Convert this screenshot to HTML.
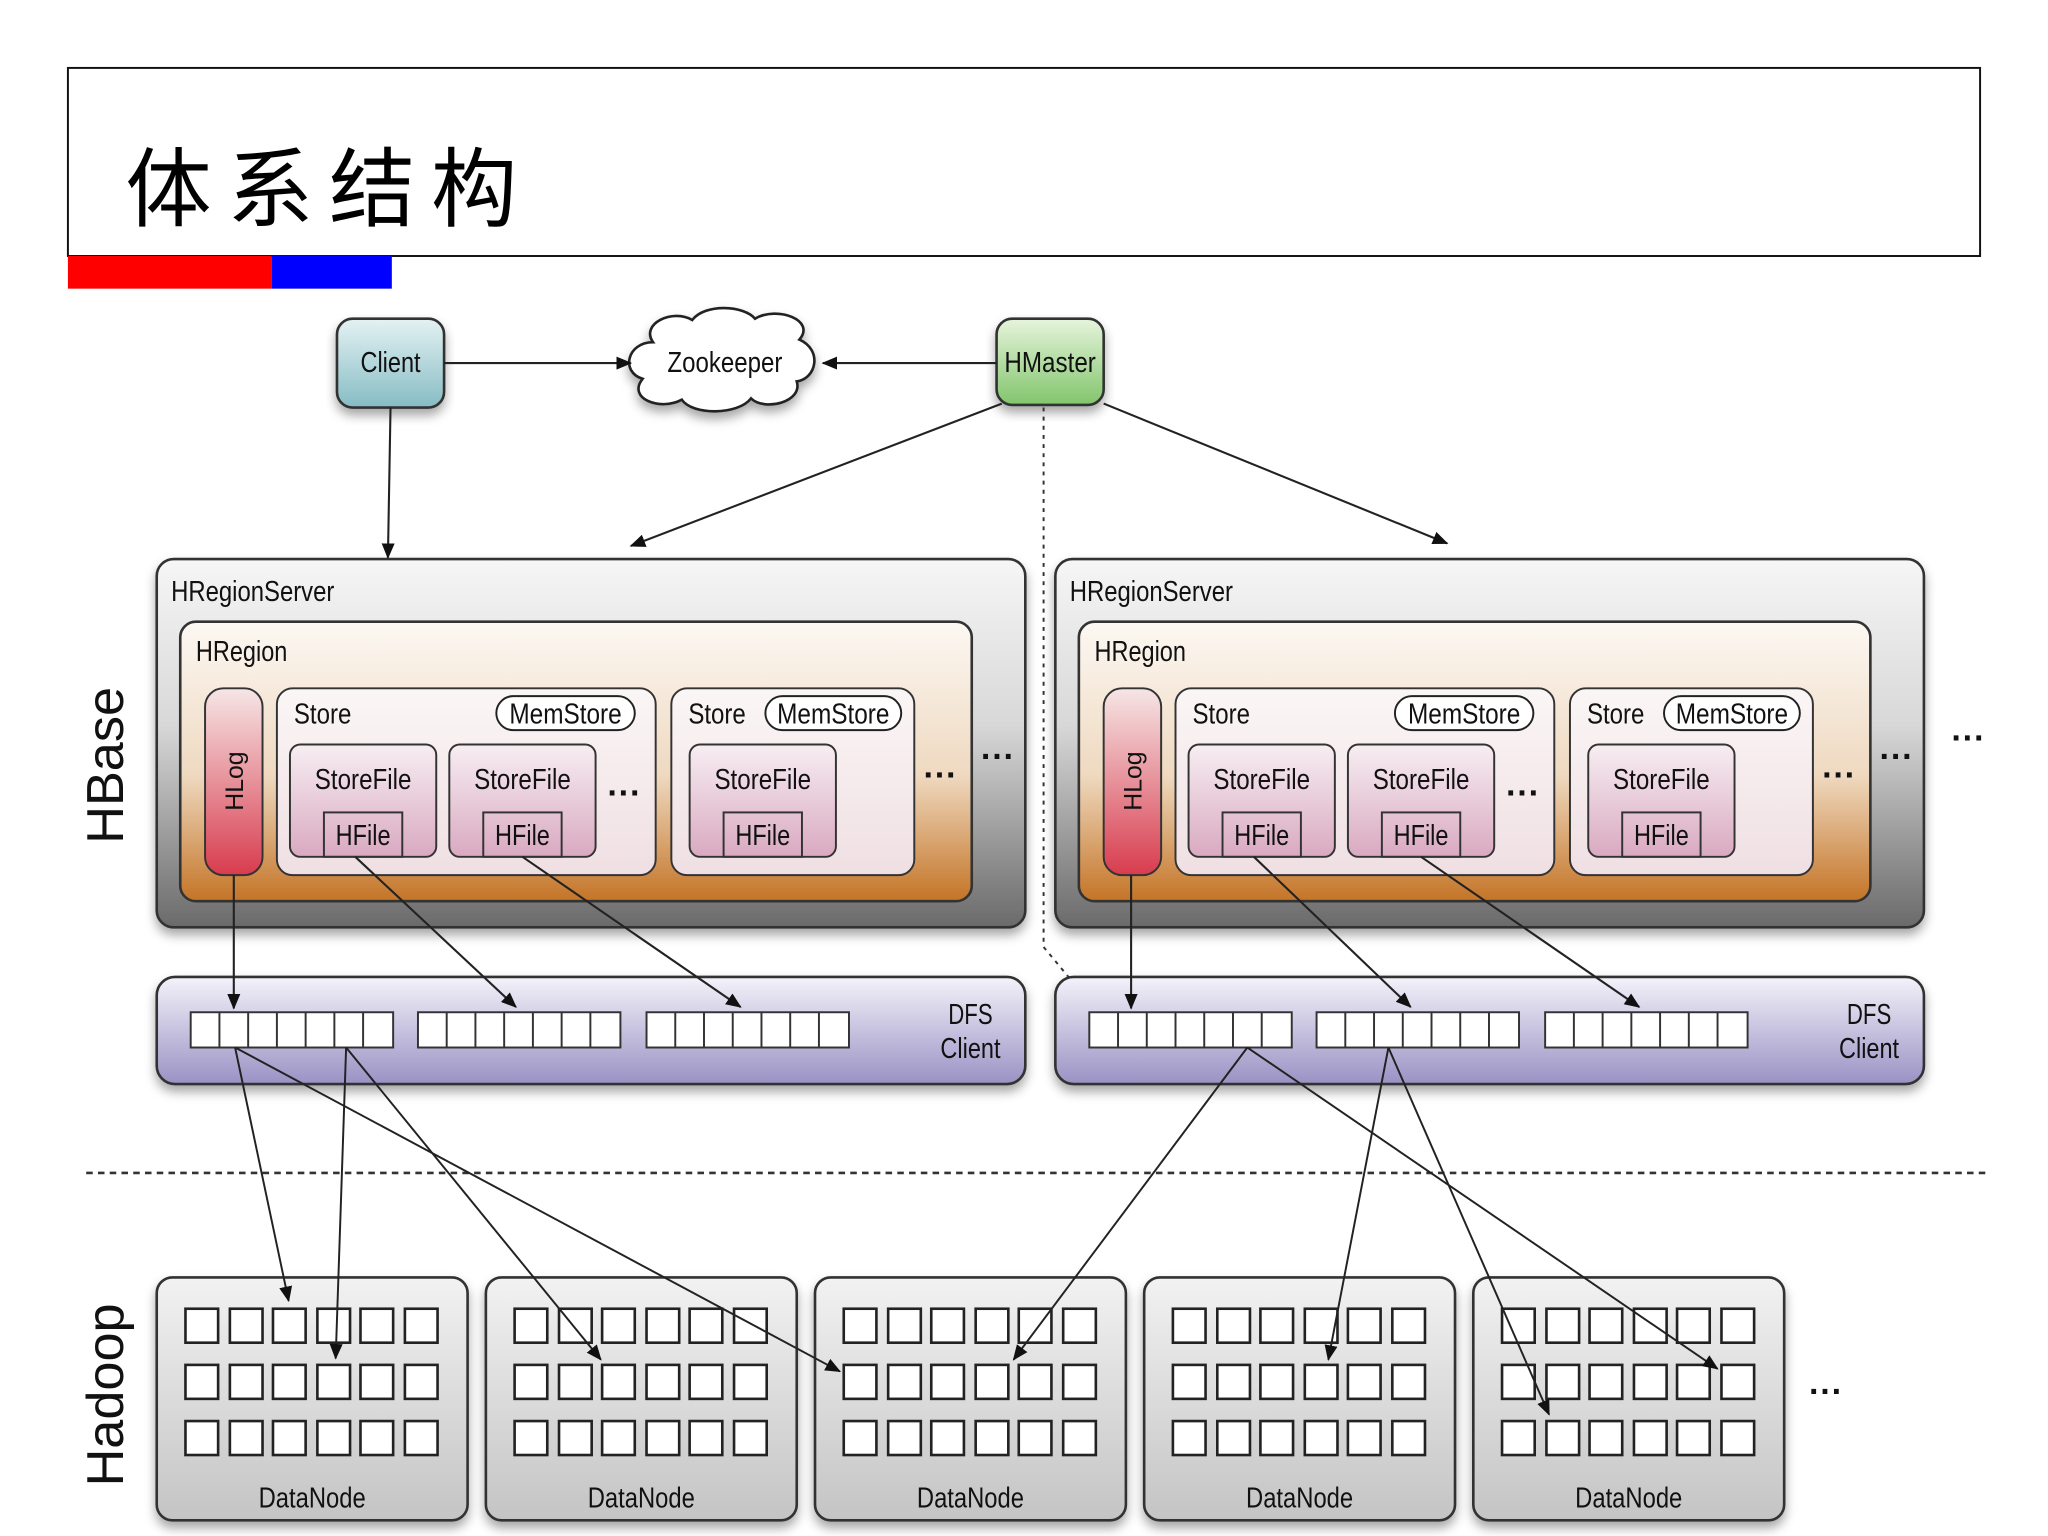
<!DOCTYPE html>
<html><head><meta charset="utf-8">
<style>
html,body{margin:0;padding:0;background:#fff;}
svg{display:block;}
text{font-family:"Liberation Sans",sans-serif;fill:#111;}
.t{font-size:22px;}
.cjk{font-family:"Liberation Sans","Noto Sans CJK SC",sans-serif;}
</style></head>
<body>
<svg width="2048" height="1536" viewBox="0 0 1568 1176" preserveAspectRatio="none" xmlns="http://www.w3.org/2000/svg">
<defs>
<linearGradient id="gSrv" x1="0" y1="0" x2="0" y2="1"><stop offset="0" stop-color="#f6f6f6"/><stop offset="0.45" stop-color="#d8d8d8"/><stop offset="1" stop-color="#6a6a6a"/></linearGradient>
<linearGradient id="gReg" x1="0" y1="0" x2="0" y2="1"><stop offset="0" stop-color="#fcf8f3"/><stop offset="0.55" stop-color="#efd9c0"/><stop offset="1" stop-color="#c47426"/></linearGradient>
<linearGradient id="gStore" x1="0" y1="0" x2="0" y2="1"><stop offset="0" stop-color="#fbf6f6"/><stop offset="1" stop-color="#efdfe3"/></linearGradient>
<linearGradient id="gSF" x1="0" y1="0" x2="0" y2="1"><stop offset="0" stop-color="#f7eef2"/><stop offset="1" stop-color="#d9a9c1"/></linearGradient>
<linearGradient id="gLog" x1="0" y1="0" x2="0" y2="1"><stop offset="0" stop-color="#f6e6e6"/><stop offset="1" stop-color="#d83c4e"/></linearGradient>
<linearGradient id="gDfs" x1="0" y1="0" x2="0" y2="1"><stop offset="0" stop-color="#f4f2fa"/><stop offset="1" stop-color="#9a92c4"/></linearGradient>
<linearGradient id="gDN" x1="0" y1="0" x2="0" y2="1"><stop offset="0" stop-color="#f2f2f2"/><stop offset="1" stop-color="#c4c4c4"/></linearGradient>
<linearGradient id="gCl" x1="0" y1="0" x2="0" y2="1"><stop offset="0" stop-color="#e4f2f3"/><stop offset="1" stop-color="#86bcc4"/></linearGradient>
<linearGradient id="gHM" x1="0" y1="0" x2="0" y2="1"><stop offset="0" stop-color="#e6f4dc"/><stop offset="1" stop-color="#82c56c"/></linearGradient>
<filter id="sh" x="-10%" y="-10%" width="120%" height="130%"><feDropShadow dx="0" dy="5" stdDeviation="4" flood-color="#000" flood-opacity="0.35"/></filter>
<marker id="ar" markerWidth="12" markerHeight="10" refX="11" refY="5" orient="auto" markerUnits="userSpaceOnUse"><path d="M0,0 L12,5 L0,10 Z" fill="#111"/></marker>
<g id="grid" fill="#fff" stroke="#222" stroke-width="2">
<rect x="22" y="24" width="25" height="26"/><rect x="56" y="24" width="25" height="26"/><rect x="89" y="24" width="25" height="26"/><rect x="123" y="24" width="25" height="26"/><rect x="156" y="24" width="25" height="26"/><rect x="190" y="24" width="25" height="26"/>
<rect x="22" y="67" width="25" height="26"/><rect x="56" y="67" width="25" height="26"/><rect x="89" y="67" width="25" height="26"/><rect x="123" y="67" width="25" height="26"/><rect x="156" y="67" width="25" height="26"/><rect x="190" y="67" width="25" height="26"/>
<rect x="22" y="110" width="25" height="26"/><rect x="56" y="110" width="25" height="26"/><rect x="89" y="110" width="25" height="26"/><rect x="123" y="110" width="25" height="26"/><rect x="156" y="110" width="25" height="26"/><rect x="190" y="110" width="25" height="26"/>
</g>
<g id="blk" fill="#fff" stroke="#333" stroke-width="1.5">
<rect x="0" y="0" width="155" height="27"/>
<path d="M22,0V27M44,0V27M66,0V27M88,0V27M110,0V27M132,0V27" fill="none"/>
</g>
<g id="sfbox">
<rect x="0" y="0" width="112" height="86" rx="8" fill="url(#gSF)" stroke="#333" stroke-width="1.5"/>
<rect x="26" y="52" width="60" height="34" fill="none" stroke="#333" stroke-width="1.5"/>
</g>
<g id="server">
<rect x="0" y="0" width="665" height="282" rx="13" fill="url(#gSrv)" stroke="#333" stroke-width="2" filter="url(#sh)"/>
<rect x="18" y="48" width="606" height="214" rx="12" fill="url(#gReg)" stroke="#333" stroke-width="2"/>
<rect x="37" y="99" width="44" height="143" rx="14" fill="url(#gLog)" stroke="#333" stroke-width="1.5"/>
<rect x="92" y="99" width="290" height="143" rx="12" fill="url(#gStore)" stroke="#333" stroke-width="1.5"/>
<rect x="260" y="105" width="106" height="26" rx="13" fill="#fff" stroke="#222" stroke-width="1.5"/>
<use href="#sfbox" x="102" y="142"/>
<use href="#sfbox" x="224" y="142"/>
<rect x="394" y="99" width="186" height="143" rx="12" fill="url(#gStore)" stroke="#333" stroke-width="1.5"/>
<rect x="466" y="105" width="104" height="26" rx="13" fill="#fff" stroke="#222" stroke-width="1.5"/>
<use href="#sfbox" x="408" y="142"/>
</g>
<g id="dfs">
<rect x="0" y="0" width="665" height="82" rx="14" fill="url(#gDfs)" stroke="#333" stroke-width="2" filter="url(#sh)"/>
<use href="#blk" x="26" y="27"/><use href="#blk" x="200" y="27"/><use href="#blk" x="375" y="27"/>
</g>
<g id="dn">
<rect x="0" y="0" width="238" height="186" rx="12" fill="url(#gDN)" stroke="#333" stroke-width="2" filter="url(#sh)"/>
<use href="#grid"/>
</g>
</defs>

<!-- Title -->
<rect x="52" y="52" width="1464" height="144" fill="#fff" stroke="#111" stroke-width="1.5"/>
<text x="96" y="168" class="cjk" style="font-size:66px;letter-spacing:12px;fill:#000">体系结构</text>
<rect x="52" y="196" width="156" height="25" fill="#ff0000"/>
<rect x="208" y="196" width="92" height="25" fill="#0000ff"/>

<!-- top nodes -->
<rect x="258" y="244" width="82" height="68" rx="12" fill="url(#gCl)" stroke="#333" stroke-width="2" filter="url(#sh)"/>
<text x="299" y="285" class="t" text-anchor="middle" textLength="46" lengthAdjust="spacingAndGlyphs">Client</text>
<path d="M500,262 C490,248 515,236 530,245 C540,232 570,234 578,244 C595,234 625,245 612,260 C630,268 625,290 610,292 C615,308 585,315 575,305 C565,318 530,318 522,306 C505,315 480,305 492,290 C475,285 480,262 500,262 Z" fill="#fff" stroke="#222" stroke-width="2" filter="url(#sh)"/>
<text x="555" y="285" class="t" text-anchor="middle" textLength="88" lengthAdjust="spacingAndGlyphs">Zookeeper</text>
<rect x="763" y="244" width="82" height="66" rx="12" fill="url(#gHM)" stroke="#333" stroke-width="2" filter="url(#sh)"/>
<text x="804" y="285" class="t" text-anchor="middle" textLength="70" lengthAdjust="spacingAndGlyphs">HMaster</text>

<g stroke="#222" stroke-width="1.6" fill="none" marker-end="url(#ar)">
<line x1="340" y1="278" x2="483" y2="278"/>
<line x1="763" y1="278" x2="630" y2="278"/>
<line x1="299" y1="312" x2="297" y2="427"/>
<line x1="767" y1="309" x2="483" y2="418"/>
<line x1="845" y1="309" x2="1108" y2="416"/>
</g>
<path d="M799,312 L799,725 L838,772" stroke="#333" stroke-width="1.5" stroke-dasharray="3,4" fill="none" marker-end="url(#ar)"/>

<!-- servers -->
<use href="#server" x="120" y="428"/>
<use href="#server" x="808" y="428"/>
<g class="t" lengthAdjust="spacingAndGlyphs">
<text x="131" y="460" textLength="125" lengthAdjust="spacingAndGlyphs">HRegionServer</text><text x="150" y="506" textLength="70" lengthAdjust="spacingAndGlyphs">HRegion</text>
<text x="225" y="554" textLength="44" lengthAdjust="spacingAndGlyphs">Store</text><text x="433" y="554" text-anchor="middle" textLength="86" lengthAdjust="spacingAndGlyphs">MemStore</text>
<text x="278" y="604" text-anchor="middle" textLength="74" lengthAdjust="spacingAndGlyphs">StoreFile</text><text x="278" y="647" text-anchor="middle" textLength="42" lengthAdjust="spacingAndGlyphs">HFile</text>
<text x="400" y="604" text-anchor="middle" textLength="74" lengthAdjust="spacingAndGlyphs">StoreFile</text><text x="400" y="647" text-anchor="middle" textLength="42" lengthAdjust="spacingAndGlyphs">HFile</text>
<text x="527" y="554" textLength="44" lengthAdjust="spacingAndGlyphs">Store</text><text x="638" y="554" text-anchor="middle" textLength="86" lengthAdjust="spacingAndGlyphs">MemStore</text>
<text x="584" y="604" text-anchor="middle" textLength="74" lengthAdjust="spacingAndGlyphs">StoreFile</text><text x="584" y="647" text-anchor="middle" textLength="42" lengthAdjust="spacingAndGlyphs">HFile</text>
<text x="819" y="460" textLength="125" lengthAdjust="spacingAndGlyphs">HRegionServer</text><text x="838" y="506" textLength="70" lengthAdjust="spacingAndGlyphs">HRegion</text>
<text x="913" y="554" textLength="44" lengthAdjust="spacingAndGlyphs">Store</text><text x="1121" y="554" text-anchor="middle" textLength="86" lengthAdjust="spacingAndGlyphs">MemStore</text>
<text x="966" y="604" text-anchor="middle" textLength="74" lengthAdjust="spacingAndGlyphs">StoreFile</text><text x="966" y="647" text-anchor="middle" textLength="42" lengthAdjust="spacingAndGlyphs">HFile</text>
<text x="1088" y="604" text-anchor="middle" textLength="74" lengthAdjust="spacingAndGlyphs">StoreFile</text><text x="1088" y="647" text-anchor="middle" textLength="42" lengthAdjust="spacingAndGlyphs">HFile</text>
<text x="1215" y="554" textLength="44" lengthAdjust="spacingAndGlyphs">Store</text><text x="1326" y="554" text-anchor="middle" textLength="86" lengthAdjust="spacingAndGlyphs">MemStore</text>
<text x="1272" y="604" text-anchor="middle" textLength="74" lengthAdjust="spacingAndGlyphs">StoreFile</text><text x="1272" y="647" text-anchor="middle" textLength="42" lengthAdjust="spacingAndGlyphs">HFile</text>
</g>
<text transform="translate(186,598) rotate(-90)" text-anchor="middle" style="font-size:19px">HLog</text>
<text transform="translate(874,598) rotate(-90)" text-anchor="middle" style="font-size:19px">HLog</text>
<g style="font-size:26px;font-weight:bold">
<text x="478" y="616" text-anchor="middle">···</text>
<text x="720" y="602" text-anchor="middle">···</text>
<text x="764" y="588" text-anchor="middle">···</text>
<text x="1166" y="616" text-anchor="middle">···</text>
<text x="1408" y="602" text-anchor="middle">···</text>
<text x="1452" y="588" text-anchor="middle">···</text>
<text x="1507" y="574" text-anchor="middle">···</text>
<text x="673" y="794" text-anchor="middle">···</text>
<text x="1362" y="794" text-anchor="middle">···</text>
<text x="1398" y="1074" text-anchor="middle">···</text>
</g>

<!-- DFS -->
<use href="#dfs" x="120" y="748"/>
<use href="#dfs" x="808" y="748"/>
<g class="t" text-anchor="middle">
<text x="743" y="784" textLength="34" lengthAdjust="spacingAndGlyphs">DFS</text><text x="743" y="810" textLength="46" lengthAdjust="spacingAndGlyphs">Client</text>
<text x="1431" y="784" textLength="34" lengthAdjust="spacingAndGlyphs">DFS</text><text x="1431" y="810" textLength="46" lengthAdjust="spacingAndGlyphs">Client</text>
</g>

<g stroke="#222" stroke-width="1.6" fill="none" marker-end="url(#ar)">
<line x1="179" y1="670" x2="179" y2="772"/>
<line x1="272" y1="656" x2="395" y2="771"/>
<line x1="400" y1="656" x2="567" y2="771"/>
<line x1="866" y1="670" x2="866" y2="772"/>
<line x1="960" y1="656" x2="1080" y2="771"/>
<line x1="1088" y1="656" x2="1255" y2="771"/>
</g>

<line x1="66" y1="898" x2="1522" y2="898" stroke="#333" stroke-width="2" stroke-dasharray="5,4"/>

<text transform="translate(94,586) rotate(-90)" text-anchor="middle" style="font-size:40px">HBase</text>
<text transform="translate(94,1068) rotate(-90)" text-anchor="middle" style="font-size:40px">Hadoop</text>

<use href="#dn" x="120" y="978"/>
<use href="#dn" x="372" y="978"/>
<use href="#dn" x="624" y="978"/>
<use href="#dn" x="876" y="978"/>
<use href="#dn" x="1128" y="978"/>
<g class="t" text-anchor="middle">
<text x="239" y="1154" textLength="82" lengthAdjust="spacingAndGlyphs">DataNode</text><text x="491" y="1154" textLength="82" lengthAdjust="spacingAndGlyphs">DataNode</text><text x="743" y="1154" textLength="82" lengthAdjust="spacingAndGlyphs">DataNode</text><text x="995" y="1154" textLength="82" lengthAdjust="spacingAndGlyphs">DataNode</text><text x="1247" y="1154" textLength="82" lengthAdjust="spacingAndGlyphs">DataNode</text>
</g>

<g stroke="#222" stroke-width="1.5" fill="none" marker-end="url(#ar)">
<line x1="180" y1="802" x2="221" y2="996"/>
<line x1="265" y1="802" x2="257" y2="1040"/>
<line x1="180" y1="802" x2="643" y2="1050"/>
<line x1="265" y1="802" x2="460" y2="1041"/>
<line x1="955" y1="802" x2="776" y2="1041"/>
<line x1="955" y1="802" x2="1315" y2="1048"/>
<line x1="1063" y1="802" x2="1017" y2="1041"/>
<line x1="1063" y1="802" x2="1186" y2="1083"/>
</g>
</svg>
</body></html>
